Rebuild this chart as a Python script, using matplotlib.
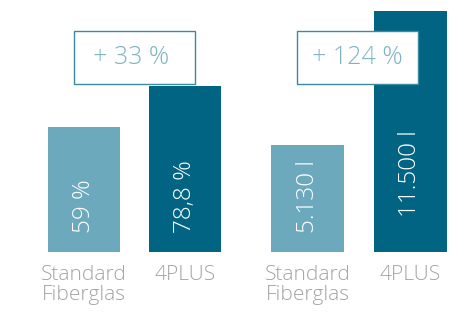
import matplotlib
matplotlib.use("Agg")
import matplotlib.pyplot as plt
from matplotlib.patches import Rectangle
import matplotlib.transforms as mtransforms

# ---- data ----
categories = ["Standard\nFiberglas", "4PLUS"]
left_values = [59.0, 78.8]
left_labels = ["59 %", "78,8 %"]
left_gain = "+ 33 %"
right_values = [5130, 11500]
right_labels = ["5.130 l", "11.500 l"]
right_gain = "+ 124 %"

# ---- style ----
LIGHT = "#6DA9BC"
DARK = "#016482"
GRAY = "#A3A3A3"
BOXTXT = "#7DB3C5"
BOXEDGE = "#3A8AA0"
FONT = ["Open Sans", "DejaVu Sans"]
WEIGHT = "light"
W, H = 465, 314

fig = plt.figure(figsize=(W / 100, H / 100), dpi=100)
fig.patch.set_facecolor("white")

def px_axes(x0, x1, ytop, ybot):
    return fig.add_axes([x0 / W, 1 - ybot / H, (x1 - x0) / W, (ybot - ytop) / H])

bar_w = 0.71
groups = [
    dict(x0=48, x1=221, vals=left_values, labs=left_labels, ytop=119.3,
         starts=[19, 19], gain=left_gain, box=(74, 195, 31, 84), gx=-3),
    dict(x0=271, x1=447, vals=right_values, labs=right_labels, ytop=12041,
         starts=[19, 35], gain=right_gain, box=(297, 418, 31, 84), gx=0),
]

for g in groups:
    ax = px_axes(g["x0"], g["x1"], 0, 252)
    ax.set_axis_off()
    xs = [0, 1]
    ax.bar(xs, g["vals"], width=bar_w, color=[LIGHT, DARK])
    ax.set_xlim(-bar_w / 2, 1 + bar_w / 2)
    ax.set_ylim(0, g["ytop"])
    for x, lab, st in zip(xs, g["labs"], g["starts"]):
        tr = mtransforms.offset_copy(ax.transData, fig=fig, x=0, y=st, units="dots")
        ax.text(x, 0, lab, rotation=90, ha="center", va="bottom", color="white",
                fontsize=17.5, family=FONT, fontweight=WEIGHT, transform=tr)
    for x, cat in zip(xs, categories):
        tr = mtransforms.offset_copy(ax.transData, fig=fig, x=0, y=-13, units="dots")
        ax.text(x, 0, cat, ha="center", va="top", color=GRAY, fontsize=15,
                family=FONT, fontweight=WEIGHT, transform=tr, linespacing=1.0,
                clip_on=False)
    bx0, bx1, by0, by1 = g["box"]
    rect = Rectangle((bx0 / W, 1 - by1 / H), (bx1 - bx0) / W, (by1 - by0) / H,
                     transform=fig.transFigure, facecolor="white",
                     edgecolor=BOXEDGE, linewidth=1.0, zorder=5)
    fig.add_artist(rect)
    fig.text(((bx0 + bx1) / 2 + g["gx"]) / W, 1 - (by0 + by1) / 2 / H, g["gain"],
             ha="center", va="center", color=BOXTXT, fontsize=18,
             family=FONT, fontweight=WEIGHT, zorder=6)

fig.savefig("out.png", dpi=100, facecolor="white")
